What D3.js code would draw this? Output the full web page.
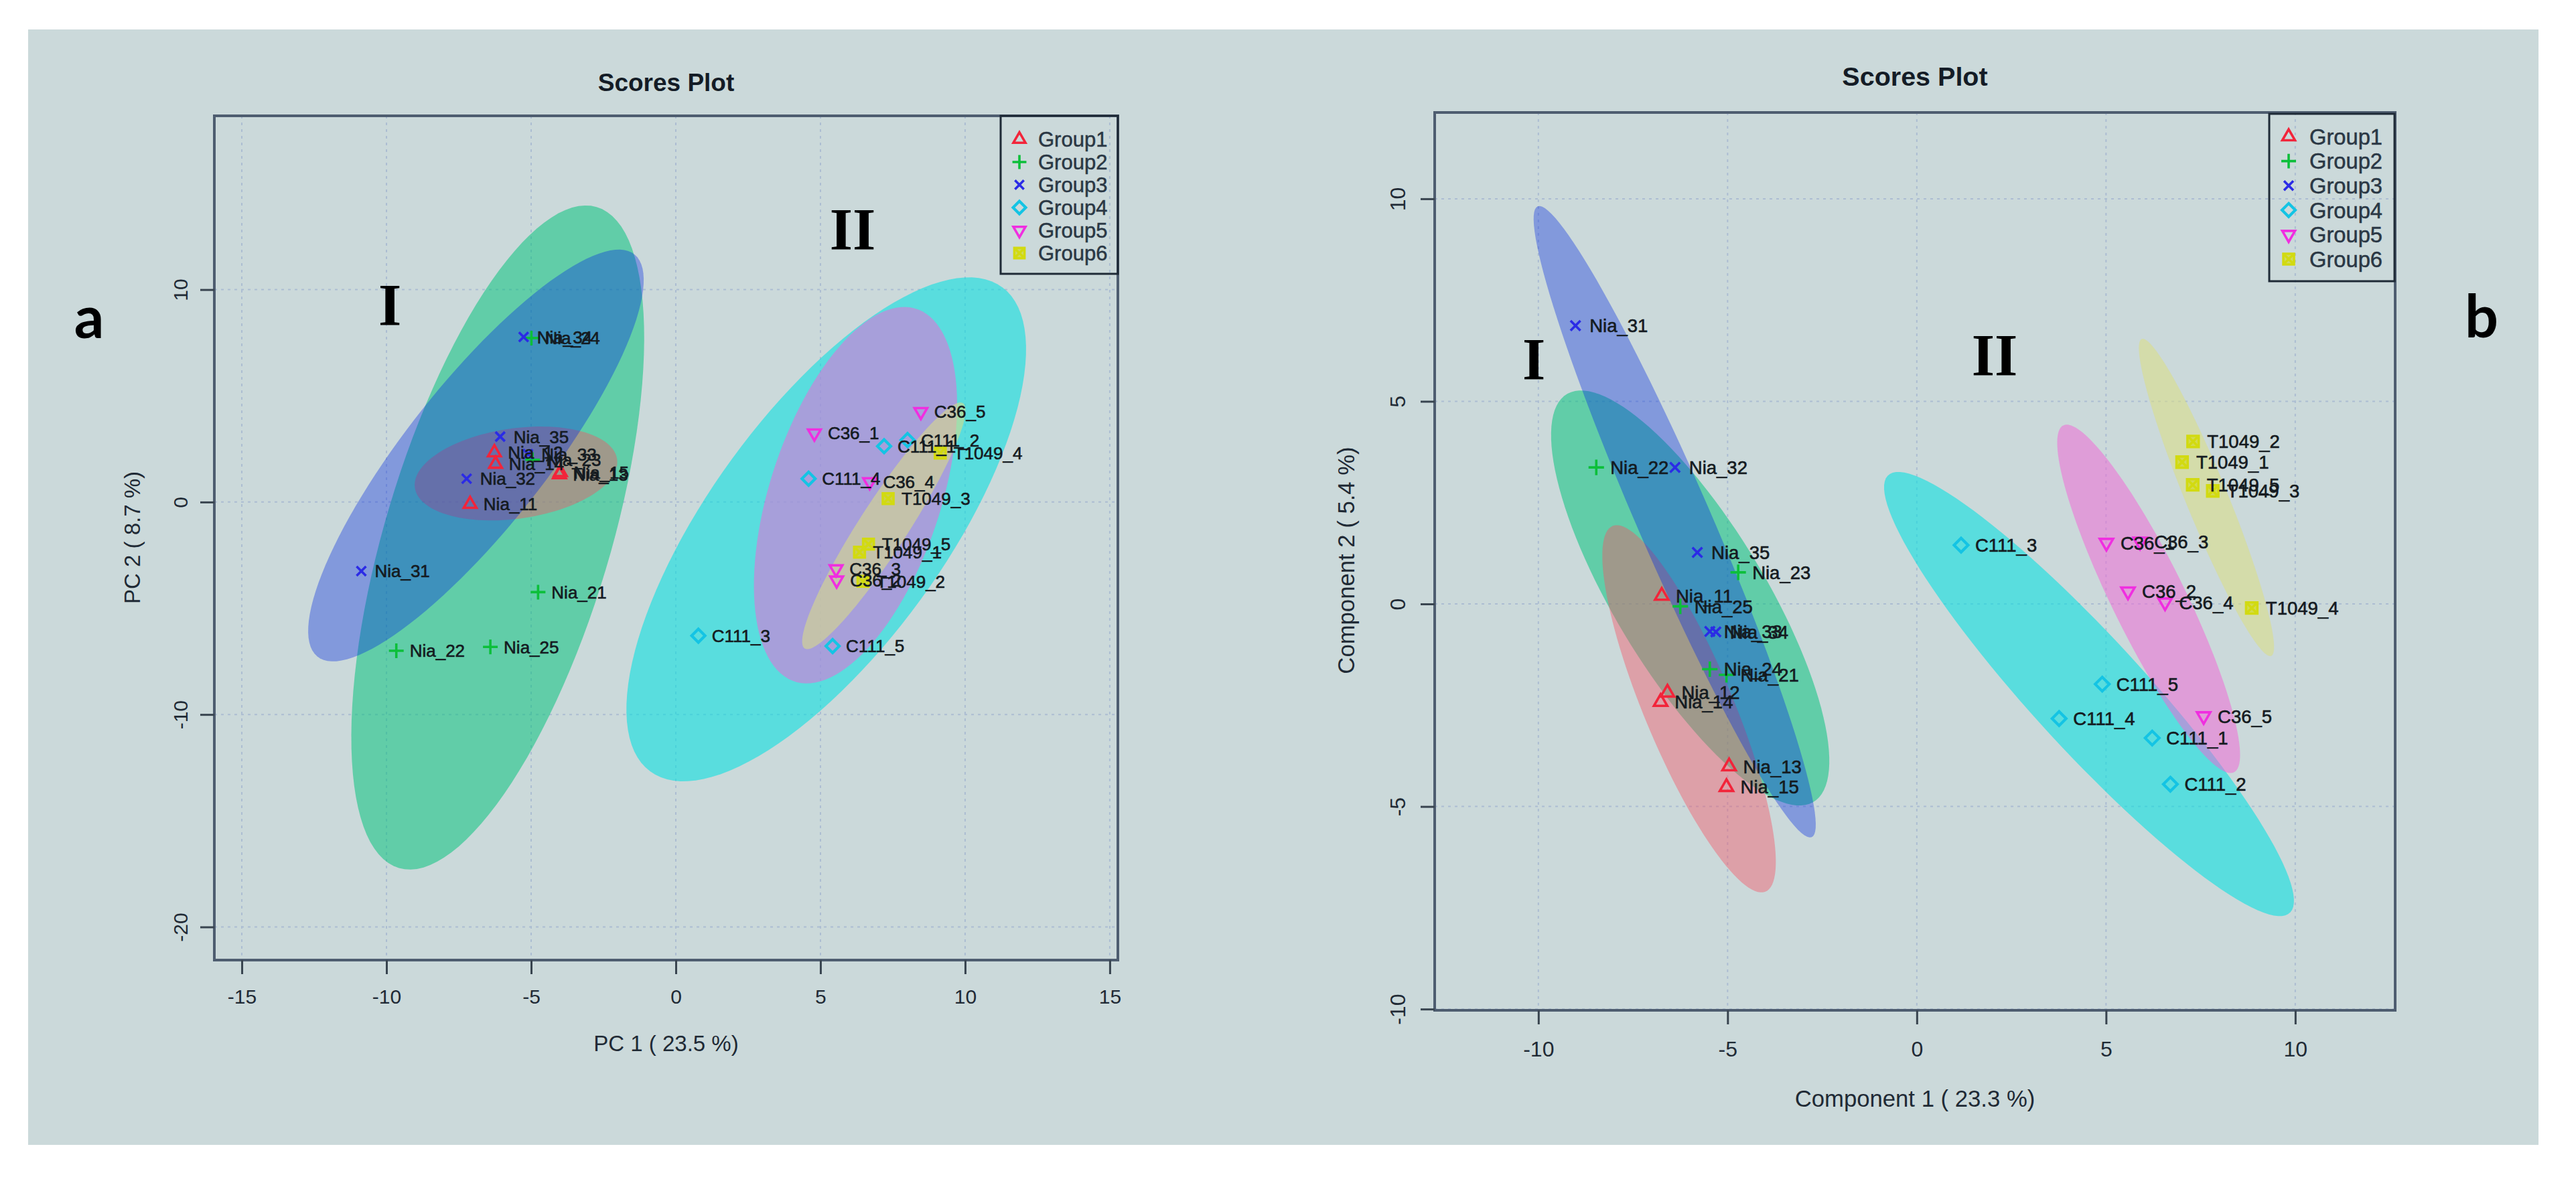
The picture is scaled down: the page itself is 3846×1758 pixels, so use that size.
<!DOCTYPE html>
<html lang="en">
<head>
<meta charset="UTF-8">
<title>Scores Plot</title>
<script src="https://cdn.jsdelivr.net/npm/d3@7/dist/d3.min.js"></script>
<style>
  body { margin: 0; background: #fff; }
  svg { display: block; }
</style>
</head>
<body>
<svg id="chart" width="3846" height="1758"></svg>
<script>
// ---- data ----
var groupNames = ["Group1", "Group2", "Group3", "Group4", "Group5", "Group6"];
var sampleNames = ["Nia_11", "Nia_12", "Nia_13", "Nia_14", "Nia_15",
                   "Nia_21", "Nia_22", "Nia_23", "Nia_24", "Nia_25",
                   "Nia_31", "Nia_32", "Nia_33", "Nia_34", "Nia_35",
                   "C111_1", "C111_2", "C111_3", "C111_4", "C111_5",
                   "C36_1", "C36_2", "C36_3", "C36_4", "C36_5",
                   "T1049_1", "T1049_2", "T1049_3", "T1049_4", "T1049_5"];
var sampleGroup = [0, 0, 0, 0, 0, 1, 1, 1, 1, 1, 2, 2, 2, 2, 2,
                   3, 3, 3, 3, 3, 4, 4, 4, 4, 4, 5, 5, 5, 5, 5];

// panel a : PCA
var aPC1 = [-7.11, -6.27, -4.02, -6.23, -3.99,
            -4.76, -9.66, -4.95, -4.99, -6.41,
            -10.87, -7.23, -5.11, -5.26, -6.07,
            7.20, 8.01, 0.78, 4.59, 5.42,
            4.79, 5.56, 5.54, 6.70, 8.47,
            6.35, 6.47, 7.34, 9.14, 6.66];
var aPC2 = [-0.10, 2.33, 1.30, 1.79, 1.40,
            -4.24, -7.00, 1.99, 7.72, -6.82,
            -3.25, 1.10, 2.26, 7.77, 3.08,
            2.63, 2.92, -6.29, 1.10, -6.78,
            3.24, -3.68, -3.15, 0.95, 4.25,
            -2.36, -3.73, 0.16, 2.31, -1.98];
var aXTicks = [-15, -10, -5, 0, 5, 10, 15];
var aYTicks = [-20, -10, 0, 10];
var aXLim = [-15.95, 15.28];
var aYLim = [-21.56, 18.18];

// panel b : PLS-DA
var bComp1 = [-6.74, -6.59, -4.96, -6.77, -5.03,
              -5.03, -8.47, -4.72, -5.47, -6.25,
              -9.02, -6.39, -5.47, -5.31, -5.80,
              6.22, 6.70, 1.17, 3.76, 4.90,
              5.01, 5.58, 5.90, 6.56, 7.58,
              7.01, 7.30, 7.82, 8.85, 7.29];
var bComp2 = [0.20, -2.19, -4.01, -2.42, -4.52,
              -1.75, 3.37, 0.78, -1.61, -0.06,
              6.87, 3.37, -0.68, -0.69, 1.27,
              -3.31, -4.45, 1.45, -2.83, -1.98,
              1.51, 0.31, 1.54, 0.04, -2.77,
              3.50, 4.01, 2.79, -0.10, 2.94];
var bXTicks = [-10, -5, 0, 5, 10];
var bYTicks = [-10, -5, 0, 5, 10];
var bXLim = [-12.74, 12.64];
var bYLim = [-10.03, 12.13];

// ---- styles ----
var pointColors = ["#f2243a", "#0cbf3a", "#2b2be6", "#14c4e4", "#f02ee0", "#d2da10"];
var ellipseColors = ["#f55064", "#00c27a", "#0028e1", "#00e0e0", "#f364d6", "#dadd86"];
var ellipseAlpha = [0.42, 0.52, 0.36, 0.56, 0.51, 0.57];
var drawOrder = [1, 0, 2, 3, 4, 5];

var svg = d3.select("#chart");
svg.append("rect").attr("x", 42).attr("y", 44).attr("width", 3748).attr("height", 1666).attr("fill", "#cbd9da");

function symbolPath(k) {
  switch (k) {
    case 0: return "M0,-11L9.5,5.5L-9.5,5.5Z";
    case 1: return "M-11,0H11M0,-11V11";
    case 2: return "M-7,-7L7,7M-7,7L7,-7";
    case 3: return "M0,-10L10,0L0,10L-10,0Z";
    case 4: return "M0,11L9.5,-5.5L-9.5,-5.5Z";
    default: return "M-8,-8H8V8H-8ZM-8,-8L8,8M-8,8L8,-8";
  }
}

function drawSymbol(sel, k, sc) {
  sel.append("path")
    .attr("d", symbolPath(k))
    .attr("transform", "scale(" + sc + ")")
    .attr("fill", k == 5 ? pointColors[5] : "none")
    .attr("fill-opacity", k == 5 ? 0.6 : null)
    .attr("stroke", pointColors[k])
    .attr("stroke-width", 3.6 / sc * (k == 3 ? 1.15 : 1));
}

// 95% confidence ellipse from a group's points
function ellipsePts(xs, ys) {
  var n = xs.length, mx = d3.mean(xs), my = d3.mean(ys);
  var sx = d3.deviation(xs), sy = d3.deviation(ys);
  var cov = d3.sum(xs, function(v, i) { return (v - mx) * (ys[i] - my); }) / (n - 1);
  var d = Math.acos(cov / (sx * sy));
  var t = Math.sqrt(5.991465);
  return d3.range(0, 120).map(function(k) {
    var a = 2 * Math.PI * k / 120;
    return [mx + t * sx * Math.cos(a + d / 2), my + t * sy * Math.cos(a - d / 2)];
  });
}

function drawPanel(p) {
  var x = d3.scaleLinear().domain(p.xLim).range([p.box.l, p.box.r]);
  var y = d3.scaleLinear().domain(p.yLim).range([p.box.b, p.box.t]);
  var g = svg.append("g");

  g.append("clipPath").attr("id", "clip-" + p.id).append("rect")
    .attr("x", p.box.l).attr("y", p.box.t)
    .attr("width", p.box.r - p.box.l).attr("height", p.box.b - p.box.t);

  // grid
  g.selectAll(".vg").data(p.xTicks).enter().append("line")
    .attr("x1", function(d) { return x(d); }).attr("x2", function(d) { return x(d); })
    .attr("y1", p.box.t).attr("y2", p.box.b)
    .attr("stroke", "#acbdd2").attr("stroke-width", 2).attr("stroke-dasharray", "4,6");
  g.selectAll(".hg").data(p.yTicks).enter().append("line")
    .attr("y1", function(d) { return y(d); }).attr("y2", function(d) { return y(d); })
    .attr("x1", p.box.l).attr("x2", p.box.r)
    .attr("stroke", "#acbdd2").attr("stroke-width", 2).attr("stroke-dasharray", "4,6");

  // ellipses
  var line = d3.line().x(function(d) { return x(d[0]); }).y(function(d) { return y(d[1]); })
    .curve(d3.curveLinearClosed);
  var eg = g.append("g").attr("clip-path", "url(#clip-" + p.id + ")");
  drawOrder.forEach(function(gi) {
    var xs = [], ys = [];
    sampleGroup.forEach(function(s, i) { if (s == gi) { xs.push(p.xv[i]); ys.push(p.yv[i]); } });
    eg.append("path").attr("d", line(ellipsePts(xs, ys)))
      .attr("fill", ellipseColors[gi]).attr("fill-opacity", ellipseAlpha[gi]);
  });

  // frame
  g.append("rect").attr("x", p.box.l).attr("y", p.box.t)
    .attr("width", p.box.r - p.box.l).attr("height", p.box.b - p.box.t)
    .attr("fill", "none").attr("stroke", "#4e5d70").attr("stroke-width", 4);

  // axes
  var xa = g.append("g").attr("transform", "translate(0," + p.box.b + ")")
    .call(d3.axisBottom(x).tickValues(p.xTicks).tickSize(21).tickFormat(function(d) { return String(d); }));
  var ya = g.append("g").attr("transform", "translate(" + p.box.l + ",0)")
    .call(d3.axisLeft(y).tickValues(p.yTicks).tickSize(21).tickFormat(function(d) { return String(d); }));
  [xa, ya].forEach(function(a) {
    a.select(".domain").remove();
    a.selectAll(".tick line").attr("stroke", "#38444f").attr("stroke-width", 3);
    a.selectAll(".tick text").attr("fill", "#1f2a35")
      .style("font-family", "'Liberation Sans', Arial, sans-serif").style("font-size", p.fs.tick + "px");
  });
  xa.selectAll(".tick text").attr("y", p.xTickY).attr("dy", null);
  ya.selectAll(".tick text").attr("x", null).attr("dy", null).attr("text-anchor", "middle")
    .attr("transform", "translate(" + (-p.yTickX) + ",0) rotate(-90)");

  // points
  var pg = g.append("g");
  p.xv.forEach(function(v, i) {
    var k = sampleGroup[i];
    var s = pg.append("g").attr("transform", "translate(" + x(v) + "," + y(p.yv[i]) + ")");
    drawSymbol(s, k, p.sym);
  });
  // labels
  g.append("g").selectAll("text").data(sampleNames).enter().append("text")
    .attr("x", function(d, i) { return x(p.xv[i]) + p.labDx; })
    .attr("y", function(d, i) { return y(p.yv[i]); })
    .attr("dy", "0.36em")
    .attr("fill", "#141a20")
    .attr("stroke", "#141a20").attr("stroke-width", 0.6)
    .style("font-family", "'Liberation Sans', Arial, sans-serif")
    .style("font-size", p.fs.lab + "px")
    .text(function(d) { return d; });

  // legend
  var lg = g.append("g");
  lg.append("rect").attr("x", p.leg.l).attr("y", p.leg.t)
    .attr("width", p.leg.r - p.leg.l).attr("height", p.leg.b - p.leg.t)
    .attr("fill", "none").attr("stroke", "#1e2a36").attr("stroke-width", 3);
  groupNames.forEach(function(nm, k) {
    var yy = p.leg.row0 + k * p.leg.step;
    var s = lg.append("g").attr("transform", "translate(" + p.leg.sx + "," + yy + ")");
    drawSymbol(s, k, p.sym * 0.95);
    lg.append("text").attr("x", p.leg.tx).attr("y", yy).attr("dy", "0.36em")
      .attr("fill", "#2a3744")
      .attr("stroke", "#2a3744").attr("stroke-width", 0.5)
      .style("font-family", "'Liberation Sans', Arial, sans-serif")
      .style("font-size", p.fs.leg + "px")
      .text(nm);
  });

  // titles
  g.append("text").attr("x", (p.box.l + p.box.r) / 2).attr("y", p.titleY)
    .attr("text-anchor", "middle").attr("fill", "#141c26")
    .style("font-family", "'Liberation Sans', Arial, sans-serif").style("font-weight", "bold")
    .style("font-size", p.fs.title + "px").text("Scores Plot");
  g.append("text").attr("x", (p.box.l + p.box.r) / 2).attr("y", p.xLabY)
    .attr("text-anchor", "middle").attr("fill", "#1f2a35")
    .style("font-family", "'Liberation Sans', Arial, sans-serif")
    .style("font-size", p.fs.axis + "px").text(p.xLab);
  g.append("text").attr("transform", "translate(" + p.yLabX + "," + p.yLabC + ") rotate(-90)")
    .attr("text-anchor", "middle").attr("fill", "#1f2a35")
    .style("font-family", "'Liberation Sans', Arial, sans-serif")
    .style("font-size", p.fs.axis + "px").text(p.yLab);

  // cluster marks and panel letter
  p.marks.forEach(function(m) {
    g.append("text").attr("x", m[1]).attr("y", m[2]).attr("text-anchor", "middle")
      .attr("fill", "#000")
      .style("font-family", "'Liberation Serif', 'Times New Roman', serif").style("font-weight", "bold")
      .style("font-size", "88px").text(m[0]);
  });
  g.append("text").attr("x", p.letter[1]).attr("y", p.letter[2]).attr("text-anchor", "middle")
    .attr("fill", "#000")
    .style("font-family", "Lato, 'Open Sans', sans-serif").style("font-weight", "bold")
    .style("font-size", "88px").text(p.letter[0]);
}

drawPanel({
  id: "a", xv: aPC1, yv: aPC2, xTicks: aXTicks, yTicks: aYTicks, xLim: aXLim, yLim: aYLim,
  box: { l: 320, t: 173, r: 1669, b: 1434 },
  fs: { tick: 30, lab: 26, leg: 31, title: 37, axis: 33 },
  sym: 1.0, labDx: 20, xTickY: 65, yTickX: 40,
  leg: { l: 1494, t: 173, r: 1669, b: 409, sx: 1522, tx: 1550, row0: 208, step: 34 },
  titleY: 136, xLabY: 1570, yLabX: 209, yLabC: 803,
  xLab: "PC 1 ( 23.5 %)", yLab: "PC 2 ( 8.7 %)",
  marks: [["I", 582, 485], ["II", 1273, 372]],
  letter: ["a", 133, 505]
});

drawPanel({
  id: "b", xv: bComp1, yv: bComp2, xTicks: bXTicks, yTicks: bYTicks, xLim: bXLim, yLim: bYLim,
  box: { l: 2142, t: 168, r: 3576, b: 1509 },
  fs: { tick: 32, lab: 27.5, leg: 32.7, title: 39.5, axis: 34.7 },
  sym: 1.05, labDx: 21, xTickY: 69, yTickX: 44,
  leg: { l: 3388, t: 170, r: 3575, b: 420, sx: 3417, tx: 3448, row0: 204, step: 36.6 },
  titleY: 128, xLabY: 1653, yLabX: 2022, yLabC: 837,
  xLab: "Component 1 ( 23.3 %)", yLab: "Component 2 ( 5.4 %)",
  marks: [["I", 2290, 566], ["II", 2978, 560]],
  letter: ["b", 3705, 504]
});
</script>
</body>
</html>
